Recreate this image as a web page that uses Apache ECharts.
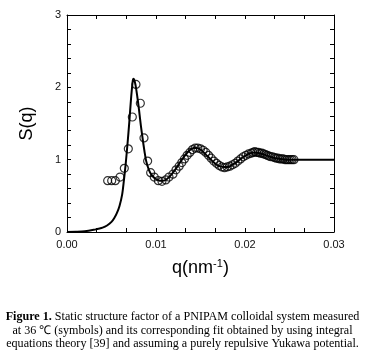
<!DOCTYPE html>
<html>
<head>
<meta charset="utf-8">
<script src="https://cdn.jsdelivr.net/npm/echarts@6/dist/echarts.min.js"></script>
<style>
  html, body { margin: 0; padding: 0; background: #fff; }
  #chart { width: 365px; height: 358px; }
</style>
</head>
<body>
<div id="chart"></div>
<script>
// measured S(q) (symbols)
const dataQ = [0.00457, 0.00502, 0.00543, 0.00596, 0.00644, 0.00689, 0.00734, 0.00775, 0.00824, 0.00865,
  0.00906, 0.0094, 0.0098, 0.01026, 0.01067, 0.0111, 0.01146, 0.0119, 0.01225,
  0.0126, 0.0129, 0.0132, 0.0135, 0.0138, 0.0141, 0.0144, 0.0147, 0.0150, 0.0153, 0.0156, 0.0159,
  0.0162, 0.0165, 0.0168, 0.0171, 0.0174, 0.0177, 0.0180, 0.0183, 0.0186, 0.0189, 0.0192, 0.0195,
  0.0198, 0.0201, 0.0204, 0.0207, 0.0209, 0.0211, 0.0213, 0.0215, 0.0217, 0.0219, 0.0221, 0.0223,
  0.0225, 0.0227, 0.0229, 0.0231, 0.0233, 0.0235, 0.0237, 0.0239, 0.0241, 0.0243, 0.0245, 0.0247,
  0.0249, 0.0251, 0.0253, 0.0255];
const dataS = [0.71, 0.71, 0.71, 0.76, 0.88, 1.15, 1.59, 2.04, 1.78, 1.30,
  0.98, 0.82, 0.76, 0.71, 0.70, 0.72, 0.76, 0.80, 0.86,
  0.91, 0.96, 1.01, 1.06, 1.10, 1.14, 1.16, 1.16, 1.15, 1.13, 1.10, 1.06,
  1.02, 0.98, 0.95, 0.92, 0.90, 0.89, 0.90, 0.91, 0.93, 0.95, 0.98, 1.01,
  1.04, 1.06, 1.08, 1.09, 1.10, 1.11, 1.10, 1.10, 1.09, 1.09, 1.08, 1.07,
  1.06, 1.05, 1.04, 1.04, 1.03, 1.02, 1.02, 1.01, 1.01, 1.01, 1.00, 1.00,
  1.00, 1.00, 1.00, 1.00];

// fit from integral equations theory (line)
const fitQ = [0, 0.001, 0.002, 0.003, 0.0035, 0.004, 0.0045, 0.005, 0.0053, 0.0056, 0.0059, 0.0062,
  0.0064, 0.0066, 0.0068, 0.0070, 0.0072, 0.0074, 0.0075, 0.0077, 0.0079, 0.0081, 0.0083, 0.0085,
  0.0087, 0.0089, 0.0092, 0.0095, 0.0099, 0.0104, 0.0108, 0.0112, 0.0117, 0.0122, 0.0127, 0.0132,
  0.0137, 0.0142, 0.0146, 0.0151, 0.0156, 0.0161, 0.0166, 0.0171, 0.0176, 0.0181, 0.0186, 0.0191,
  0.0196, 0.0201, 0.0206, 0.0211, 0.0216, 0.0222, 0.0228, 0.0234, 0.0240, 0.0246, 0.0255, 0.0265, 0.03];
const fitS = [0, 0.003, 0.01, 0.03, 0.045, 0.06, 0.09, 0.14, 0.19, 0.26, 0.36, 0.52,
  0.72, 0.95, 1.22, 1.52, 1.85, 2.10, 2.12, 2.03, 1.87, 1.68, 1.47, 1.29,
  1.12, 0.98, 0.86, 0.79, 0.74, 0.71, 0.71, 0.73, 0.79, 0.87, 0.96, 1.05,
  1.12, 1.16, 1.16, 1.13, 1.07, 1.01, 0.95, 0.91, 0.90, 0.90, 0.93, 0.97,
  1.02, 1.06, 1.09, 1.10, 1.09, 1.07, 1.04, 1.02, 1.01, 1.00, 1.00, 1.00, 1.00];

const xTicks = ['0.00', '0.01', '0.02', '0.03'];
const captionLines = [
  '{b|Figure 1.} Static structure factor of a PNIPAM colloidal system measured',
  'at 36 \u2103 (symbols) and its corresponding fit obtained by using integral',
  'equations theory [39] and assuming a purely repulsive Yukawa potential.'
];

const chart = echarts.init(document.getElementById('chart'));
const axisFont = 'Liberation Sans';
const serif = 'Liberation Serif';

const baseX = {
  type: 'value', min: 0, max: 0.03, interval: 0.01,
  axisLine: { onZero: false, lineStyle: { color: '#000', width: 1 } },
  axisTick: { inside: true, length: 4, lineStyle: { color: '#000' } },
  minorTick: { show: true, splitNumber: 3, length: 4, lineStyle: { color: '#000' } },
  splitLine: { show: false }
};
const baseY = {
  type: 'value', min: 0, max: 3, interval: 1,
  axisLine: { onZero: false, lineStyle: { color: '#000', width: 1 } },
  axisTick: { inside: true, length: 4, lineStyle: { color: '#000' } },
  minorTick: { show: true, splitNumber: 5, length: 4, lineStyle: { color: '#000' } },
  splitLine: { show: false }
};

chart.setOption({
  animation: false,
  grid: { left: 67, right: 31, top: 15, bottom: 126 },
  xAxis: [
    Object.assign({}, baseX, {
      position: 'bottom',
      name: 'q(nm{sup|-1})',
      nameLocation: 'middle',
      nameGap: 26,
      nameTextStyle: {
        fontFamily: axisFont, fontSize: 18, color: '#000',
        rich: { sup: { fontFamily: axisFont, fontSize: 11, color: '#000', verticalAlign: 'top', padding: [0, 0, 10, 0] } }
      },
      axisLabel: {
        margin: 7, fontFamily: axisFont, fontSize: 11, color: '#111',
        formatter: v => xTicks[Math.round(v * 100)]
      }
    }),
    Object.assign({}, baseX, { position: 'top', axisLabel: { show: false } })
  ],
  yAxis: [
    Object.assign({}, baseY, {
      position: 'left',
      name: 'S(q)',
      nameLocation: 'middle',
      nameGap: 31,
      nameTextStyle: { fontFamily: axisFont, fontSize: 18, color: '#000' },
      axisLabel: { margin: 6, fontFamily: axisFont, fontSize: 11, color: '#111' }
    }),
    Object.assign({}, baseY, { position: 'right', axisLabel: { show: false } })
  ],
  series: [
    {
      type: 'line',
      data: fitQ.map((q, i) => [q, fitS[i]]),
      showSymbol: false,
      smooth: 0.3,
      lineStyle: { color: '#000', width: 2 },
      z: 2
    },
    {
      type: 'scatter',
      data: dataQ.map((q, i) => [q, dataS[i]]),
      symbol: 'circle',
      symbolSize: 8,
      itemStyle: { color: 'rgba(255,255,255,0)', borderColor: '#000', borderWidth: 1.2 },
      z: 3
    }
  ],
  graphic: captionLines.map((t, i) => ({
    type: 'text',
    left: 'center',
    top: 311 + i * 13.5,
    style: {
      text: t,
      fontFamily: serif,
      fontSize: 12.1,
      fill: '#000',
      rich: { b: { fontFamily: serif, fontSize: 12.1, fontWeight: 'bold', fill: '#000' } }
    }
  }))
});
</script>
</body>
</html>
